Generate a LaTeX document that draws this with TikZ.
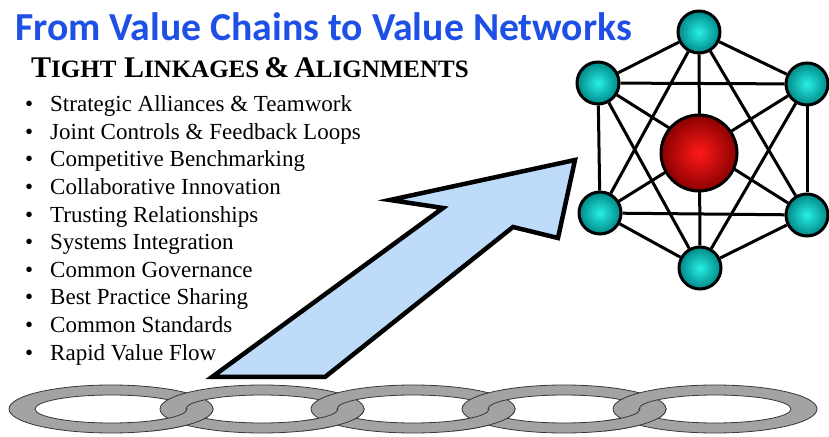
\documentclass[tikz,border=0pt]{standalone}
\usepackage{fontspec}
\setmainfont{Liberation Serif}
\newfontfamily\headfont{Carlito}
\usetikzlibrary{backgrounds}

\definecolor{titleblue}{RGB}{30,80,230}
\definecolor{arrowblue}{RGB}{190,220,250}
\definecolor{chaingray}{RGB}{163,163,163}
\definecolor{ringline}{RGB}{55,55,55}
\definecolor{tealin}{RGB}{40,240,230}
\definecolor{tealout}{RGB}{0,135,135}
\definecolor{redin}{RGB}{255,25,25}
\definecolor{redout}{RGB}{140,0,0}

\newcommand{\ringfill}{chaingray}
\newcommand{\chainring}[2]{
    % Chain Ring (Flat Elliptic Link)
    % \chainring{name}{x of center}
    % example:
    %   \chainring{r}{100}
    \coordinate (#1) at (#2,27);
    \path[fill=\ringfill,draw=ringline,line width=0.8pt,even odd rule]
        (#1) ellipse (102pt and 24pt) (#1) ellipse (76pt and 14pt);
}
\newcommand{\chainlock}[1]{
    % Interlock of Two Rings
    % \chainlock{name of left ring}
    % lower half of the left ring is put back over its right neighbour
    \begin{scope}
      \clip (#1) ++(40,0) rectangle ++(70,-30);
      \path[fill=\ringfill,draw=ringline,line width=0.8pt,even odd rule]
          (#1) ellipse (102pt and 24pt) (#1) ellipse (76pt and 14pt);
    \end{scope}
}
\newcommand{\smallcap}[2]{
    % Faked Small Caps
    % \smallcap{first letter}{rest}
    {\fontsize{30}{30}\selectfont #1}{\fontsize{25}{25}\selectfont #2}
}

\begin{document}
\begin{tikzpicture}[x=1pt,y=1pt,
    listitem/.style={anchor=base west,inner sep=0pt,
      font=\fontsize{23}{23}\selectfont},
    netball/.style={circle,draw=black,line width=3pt,minimum size=42pt,
      inner sep=0pt,shading=radial,inner color=tealin,outer color=tealout},
    hubball/.style={netball,minimum size=76pt,
      inner color=redin,outer color=redout},
    netlink/.style={line width=3pt,black}]
  \useasboundingbox (0,0) rectangle (829,436);

  % heading
  \node (title) [anchor=base west,inner sep=0pt,text=titleblue,
      font=\headfont\bfseries\fontsize{39.7}{40}\selectfont]
      at (15,395) {From Value Chains to Value Networks};
  \node (subtitle) [anchor=base west,inner sep=0pt,font=\bfseries]
      at (31,358) {\smallcap{T}{IGHT} \smallcap{L}{INKAGES}
      {\fontsize{30}{30}\selectfont\&} \smallcap{A}{LIGNMENTS}};

  % bullet list
  \foreach \txt [count=\i] in {Strategic Alliances \& Teamwork,
      Joint Controls \& Feedback Loops, Competitive Benchmarking,
      Collaborative Innovation, Trusting Relationships,
      Systems Integration, Common Governance, Best Practice Sharing,
      Common Standards, Rapid Value Flow}{
    \node (bullet\i) [listitem] at (25,324.3-27.6*\i+27.6) {\textbullet};
    \node (item\i) [listitem] at (50,324.3-27.6*\i+27.6) {\txt};
  }

  % big arrow from the chain up to the network
  \draw[line width=4.5pt,fill=arrowblue,line join=miter]
      (212,59) -- (325,59) -- (513,209) -- (558,198) -- (575,276)
      -- (390,236) -- (443,228) -- cycle;

  % network
  \node (nTop) [netball] at (699,404) {};
  \node (nLT) [netball] at (598,353) {};
  \node (nRT) [netball] at (807,352) {};
  \node (nLB) [netball] at (600,223) {};
  \node (nRB) [netball] at (807,221) {};
  \node (nBot) [netball] at (700,168) {};
  \node (nHub) [hubball] at (699,283) {};
  \begin{pgfonlayer}{background}
    \foreach \a/\b in {nTop/nLT,nTop/nRT,nTop/nLB,nTop/nRB,nTop/nBot,
        nLT/nRT,nLT/nLB,nLT/nRB,nLT/nBot,nRT/nLB,nRT/nRB,nRT/nBot,
        nLB/nRB,nLB/nBot,nRB/nBot}
      \draw[netlink] (\a) -- (\b);
  \end{pgfonlayer}

  % chain
  \chainring{ringOne}{111}
  \chainring{ringTwo}{262}
  \chainlock{ringOne}
  \chainring{ringThree}{413}
  \chainlock{ringTwo}
  \chainring{ringFour}{564}
  \chainlock{ringThree}
  \chainring{ringFive}{715}
  \chainlock{ringFour}
\end{tikzpicture}
\end{document}
